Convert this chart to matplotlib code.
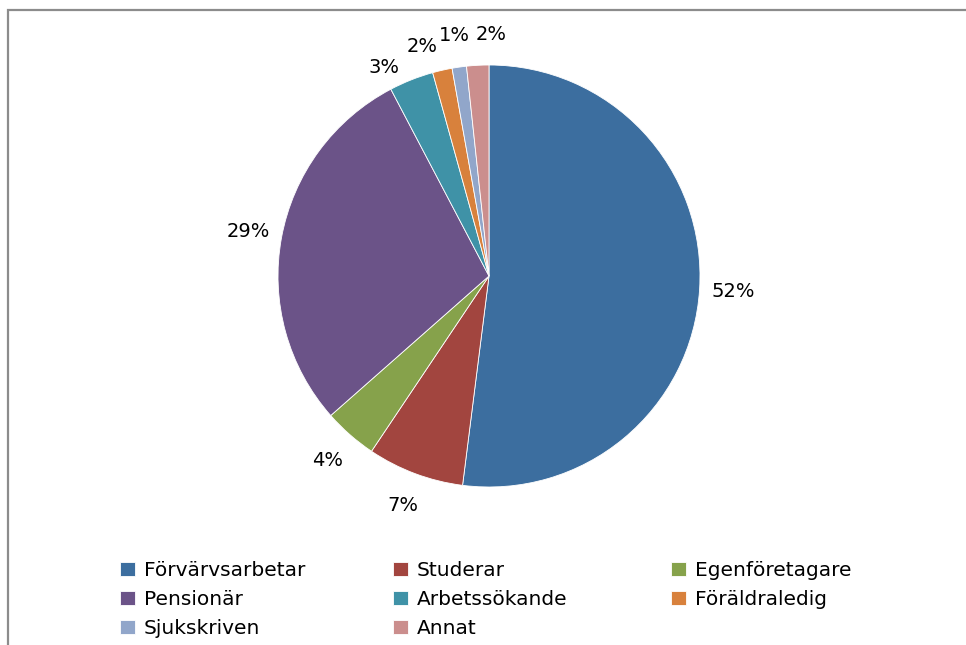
import matplotlib.pyplot as plt
from matplotlib.patches import Rectangle

# slice shares (%), clockwise from 12 o'clock
categories = ["Förvärvsarbetar", "Studerar", "Egenföretagare", "Pensionär",
              "Arbetssökande", "Föräldraledig", "Sjukskriven", "Annat"]
shares = [52.0, 7.4, 4.1, 28.8, 3.4, 1.5, 1.1, 1.7]
colors = ["#3C6E9F", "#A2453F", "#86A24B", "#6B5388",
          "#3F92A7", "#D8813C", "#91A6CA", "#CB8E8D"]

W, H = 966, 645
fig = plt.figure(figsize=(W / 100, H / 100), dpi=100)

# pie: centre (489, 276) px, radius 211 px
cx, cy, r = 489, 276, 211
ax = fig.add_axes([(cx - r) / W, (H - cy - r) / H, 2 * r / W, 2 * r / H])
wedges, _, pct = ax.pie(shares, colors=colors, startangle=90, counterclock=False,
                        autopct="%.0f%%", pctdistance=1.16,
                        wedgeprops=dict(edgecolor="white", linewidth=0.6),
                        textprops=dict(fontsize=14, color="black"))
ax.set_xlim(-1, 1)
ax.set_ylim(-1, 1)
ax.set_aspect("equal")

# spread the crowded labels of the small slices at the top (like Excel does)
spread = {4: (-0.50, 0.987), 5: (-0.318, 1.09), 6: (-0.162, 1.138), 7: (0.01, 1.143)}
for i, xy in spread.items():
    pct[i].set_position(xy)

# legend laid out row-wise in three fixed columns
col_x = [120, 393, 671]
top_y = 561
for c in range(3):
    idx = list(range(c, len(categories), 3))
    fig.legend([wedges[i] for i in idx], [categories[i] for i in idx],
               loc="upper left", bbox_to_anchor=(col_x[c] / W, 1 - top_y / H),
               frameon=False, fontsize=14.5, borderpad=0, borderaxespad=0,
               handlelength=0.72, handleheight=0.72, handletextpad=0.45,
               labelspacing=0.5)

# outer chart border (only left and top visible in the crop)
fig.patches.append(Rectangle((7.5 / W, -0.1), 1.2, (H - 9.5) / H + 0.1,
                             transform=fig.transFigure, fill=False,
                             edgecolor="#8c8c8c", linewidth=1.6))

fig.savefig("out.png", dpi=100)
